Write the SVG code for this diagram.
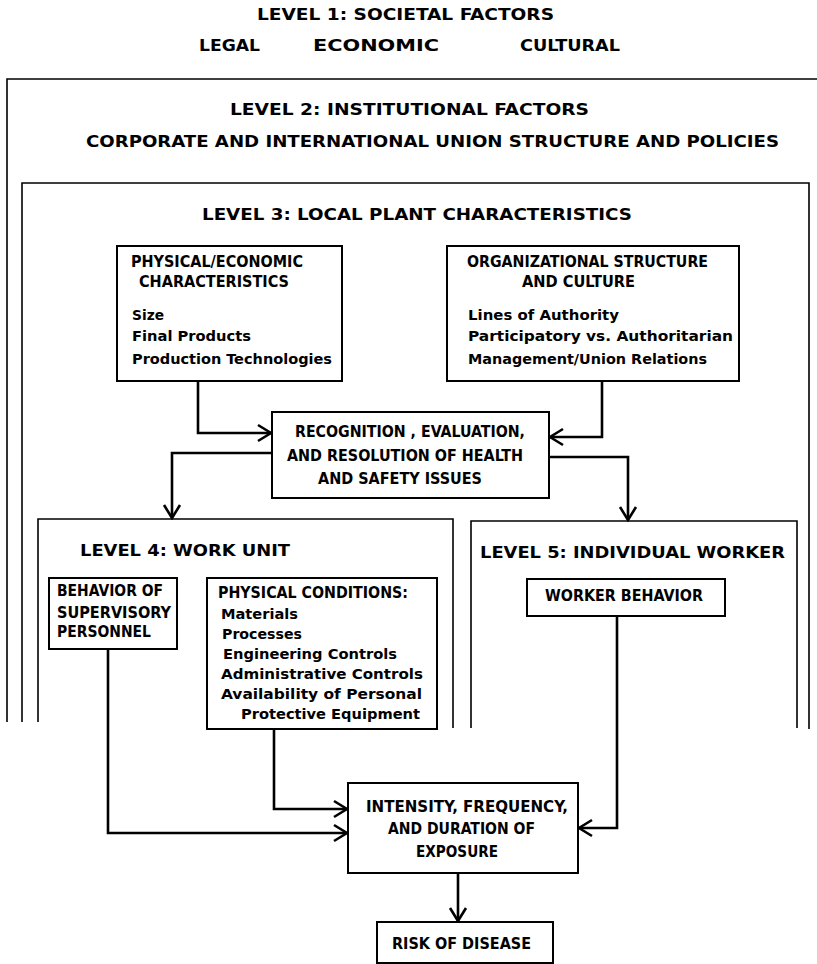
<svg xmlns="http://www.w3.org/2000/svg" width="817" height="964" viewBox="0 0 817 964">
<style>
text{font-family:"DejaVu Sans Condensed","Liberation Sans",Arial,sans-serif;font-weight:bold;fill:#000}
.t{font-size:16px}
.b{font-size:15px}
.i{font-size:13.5px}
.frame{fill:none;stroke:#000;stroke-width:1.6}
.box{fill:#fff;stroke:#000;stroke-width:2}
.con{fill:none;stroke:#000;stroke-width:2.6;marker-end:url(#arr)}
</style>
<defs>
<marker id="arr" markerUnits="userSpaceOnUse" viewBox="-15 -10 17 20" markerWidth="17" markerHeight="20" refX="0" refY="0" orient="auto">
<path d="M-13,-8 L0,0 L-13,8" fill="none" stroke="#000" stroke-width="2.6"/>
</marker>
</defs>
<rect width="817" height="964" fill="#fff"/>

<g id="level1">
<text class="t" x="257" y="20" textLength="297" lengthAdjust="spacingAndGlyphs">LEVEL 1:  SOCIETAL FACTORS</text>
<text class="t" x="199" y="51" textLength="61" lengthAdjust="spacingAndGlyphs">LEGAL</text>
<text class="t" x="313" y="51" textLength="126" lengthAdjust="spacingAndGlyphs">ECONOMIC</text>
<text class="t" x="520" y="51" textLength="100" lengthAdjust="spacingAndGlyphs">CULTURAL</text>
</g>

<g id="level2">
<path class="frame" d="M7,722 V79 H817"/>
<text class="t" x="230" y="115" textLength="359" lengthAdjust="spacingAndGlyphs">LEVEL 2:  INSTITUTIONAL FACTORS</text>
<text class="t" x="86" y="147" textLength="693" lengthAdjust="spacingAndGlyphs">CORPORATE AND INTERNATIONAL UNION STRUCTURE AND POLICIES</text>
</g>

<g id="level3">
<path class="frame" d="M22,722 V183 H809 V729"/>
<text class="t" x="202" y="220" textLength="430" lengthAdjust="spacingAndGlyphs">LEVEL 3:  LOCAL PLANT CHARACTERISTICS</text>
</g>

<g id="physical-economic">
<rect class="box" x="117" y="246" width="225" height="135"/>
<text class="b" x="131" y="267" textLength="172" lengthAdjust="spacingAndGlyphs">PHYSICAL/ECONOMIC</text>
<text class="b" x="139" y="287" textLength="150" lengthAdjust="spacingAndGlyphs">CHARACTERISTICS</text>
<text class="i" x="132" y="320" textLength="32" lengthAdjust="spacingAndGlyphs">Size</text>
<text class="i" x="132" y="341" textLength="119" lengthAdjust="spacingAndGlyphs">Final Products</text>
<text class="i" x="132" y="364" textLength="200" lengthAdjust="spacingAndGlyphs">Production Technologies</text>
</g>

<g id="org-structure">
<rect class="box" x="447" y="246" width="292" height="135"/>
<text class="b" x="467" y="267" textLength="241" lengthAdjust="spacingAndGlyphs">ORGANIZATIONAL STRUCTURE</text>
<text class="b" x="522" y="287" textLength="113" lengthAdjust="spacingAndGlyphs">AND CULTURE</text>
<text class="i" x="468" y="320" textLength="151" lengthAdjust="spacingAndGlyphs">Lines of Authority</text>
<text class="i" x="468" y="341" textLength="265" lengthAdjust="spacingAndGlyphs">Participatory vs. Authoritarian</text>
<text class="i" x="468" y="364" textLength="239" lengthAdjust="spacingAndGlyphs">Management/Union Relations</text>
</g>

<g id="recognition">
<rect class="box" x="272" y="412" width="277" height="86"/>
<text class="b" x="295" y="437" textLength="230" lengthAdjust="spacingAndGlyphs">RECOGNITION , EVALUATION,</text>
<text class="b" x="287" y="461" textLength="236" lengthAdjust="spacingAndGlyphs">AND RESOLUTION OF HEALTH</text>
<text class="b" x="318" y="484" textLength="164" lengthAdjust="spacingAndGlyphs">AND SAFETY ISSUES</text>
</g>

<g id="level4">
<path class="frame" d="M38,722 V519 H453 V728"/>
<text class="t" x="80" y="556" textLength="210" lengthAdjust="spacingAndGlyphs">LEVEL 4:  WORK UNIT</text>
</g>

<g id="supervisory">
<rect class="box" x="49" y="578" width="128" height="71"/>
<text class="b" x="57" y="596" textLength="106" lengthAdjust="spacingAndGlyphs">BEHAVIOR OF</text>
<text class="b" x="57" y="618" textLength="114" lengthAdjust="spacingAndGlyphs">SUPERVISORY</text>
<text class="b" x="57" y="637" textLength="94" lengthAdjust="spacingAndGlyphs">PERSONNEL</text>
</g>

<g id="physical-conditions">
<rect class="box" x="207" y="578" width="230" height="151"/>
<text class="b" x="218" y="598" textLength="190" lengthAdjust="spacingAndGlyphs">PHYSICAL CONDITIONS:</text>
<text class="i" x="221" y="619" textLength="77" lengthAdjust="spacingAndGlyphs">Materials</text>
<text class="i" x="222" y="639" textLength="80" lengthAdjust="spacingAndGlyphs">Processes</text>
<text class="i" x="223" y="659" textLength="174" lengthAdjust="spacingAndGlyphs">Engineering Controls</text>
<text class="i" x="221" y="679" textLength="202" lengthAdjust="spacingAndGlyphs">Administrative Controls</text>
<text class="i" x="221" y="699" textLength="201" lengthAdjust="spacingAndGlyphs">Availability of Personal</text>
<text class="i" x="241" y="719" textLength="179" lengthAdjust="spacingAndGlyphs">Protective Equipment</text>
</g>

<g id="level5">
<path class="frame" d="M471,728 V521 H797 V728"/>
<text class="t" x="480" y="558" textLength="305" lengthAdjust="spacingAndGlyphs">LEVEL 5:  INDIVIDUAL WORKER</text>
</g>

<g id="worker-behavior">
<rect class="box" x="527" y="579" width="198" height="37"/>
<text class="b" x="545" y="601" textLength="158" lengthAdjust="spacingAndGlyphs">WORKER BEHAVIOR</text>
</g>

<g id="exposure">
<rect class="box" x="348" y="783" width="230" height="90"/>
<text class="b" x="366" y="812" textLength="202" lengthAdjust="spacingAndGlyphs">INTENSITY, FREQUENCY,</text>
<text class="b" x="388" y="834" textLength="147" lengthAdjust="spacingAndGlyphs">AND DURATION OF</text>
<text class="b" x="416" y="857" textLength="82" lengthAdjust="spacingAndGlyphs">EXPOSURE</text>
</g>

<g id="risk">
<rect class="box" x="377" y="922" width="176" height="41"/>
<text class="b" x="392" y="949" textLength="139" lengthAdjust="spacingAndGlyphs">RISK OF DISEASE</text>
</g>

<g id="connectors">
<path class="con" d="M198,381 V433 H271"/>
<path class="con" d="M602,381 V437 H550"/>
<path class="con" d="M272,453 H172 V518"/>
<path class="con" d="M549,457 H628 V520"/>
<path class="con" d="M108,649 V833 H347"/>
<path class="con" d="M274,729 V809 H347"/>
<path class="con" d="M617,616 V828 H579"/>
<path class="con" d="M458,873 V921"/>
</g>
</svg>
